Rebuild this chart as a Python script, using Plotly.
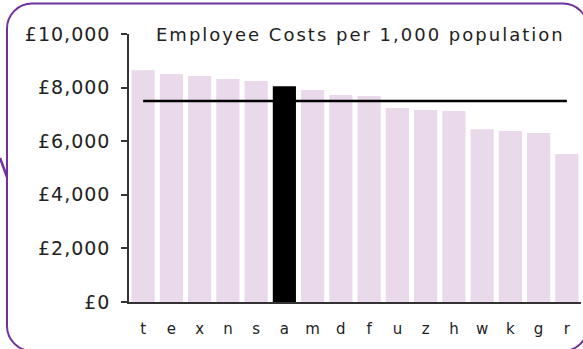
import plotly.graph_objects as go

# Employee costs per 1,000 population by authority, sorted high to low
categories = ["t", "e", "x", "n", "s", "a", "m", "d", "f", "u", "z", "h", "w", "k", "g", "r"]
costs = [8650, 8510, 8430, 8320, 8250, 8050, 7910, 7720, 7690, 7240, 7160, 7130, 6450, 6380, 6310, 5520]
average = 7500
highlight = "a"

y_ticks = [0, 2000, 4000, 6000, 8000, 10000]
y_tick_labels = [f"£{v:,}" for v in y_ticks]

title_text = "Employee Costs per 1,000 population"

W, H = 583, 349
FONT = "DejaVu Sans"
PURPLE = "#7030A0"
BAR = "#EAD8EB"
INK = "#222222"


def px(x):
    return x / W


def py(y):
    return 1 - y / H


bar_colors = ["#000000" if c == highlight else BAR for c in categories]

fig = go.Figure()
fig.add_trace(go.Bar(
    x=categories, y=costs, marker=dict(color=bar_colors, line=dict(width=0)),
    hoverinfo="x+y",
))
fig.add_trace(go.Scatter(
    x=categories, y=[average] * len(categories), mode="lines",
    line=dict(color="#000000", width=2.5), hoverinfo="skip",
))

# rounded frame around the chart (partly running off the right and bottom)
L, T, R, B, r = 7, 3.5, 588, 351, 25
k = 0.45
frame = (
    f"M {px(L)},{py(T + r)} "
    f"C {px(L)},{py(T + r * k)} {px(L + r * k)},{py(T)} {px(L + r)},{py(T)} "
    f"L {px(R - r)},{py(T)} "
    f"C {px(R - r * k)},{py(T)} {px(R)},{py(T + r * k)} {px(R)},{py(T + r)} "
    f"L {px(R)},{py(B - r)} "
    f"C {px(R)},{py(B - r * k)} {px(R - r * k)},{py(B)} {px(R - r)},{py(B)} "
    f"L {px(L + r)},{py(B)} "
    f"C {px(L + r * k)},{py(B)} {px(L)},{py(B - r * k)} {px(L)},{py(B - r)} Z"
)
shapes = [
    dict(type="path", xref="paper", yref="paper", path=frame,
         line=dict(color=PURPLE, width=2), layer="below"),
    dict(type="line", xref="paper", yref="paper",
         x0=px(0), y0=py(158), x1=px(7), y1=py(177),
         line=dict(color=PURPLE, width=2.5)),
]

fig.update_layout(
    width=W, height=H,
    margin=dict(l=0, r=0, t=0, b=0, autoexpand=False),
    paper_bgcolor="white", plot_bgcolor="white",
    showlegend=False,
    bargap=0.18,
    font=dict(family=FONT, color=INK),
    shapes=shapes,
    xaxis=dict(
        domain=[px(129), px(581)], automargin=False,
        showline=True, linecolor="#333333", linewidth=1.5,
        ticks="", tickfont=dict(size=15, family=FONT, color=INK),
        ticklabelstandoff=12, showgrid=False, zeroline=False,
    ),
    yaxis=dict(
        domain=[py(302), py(34)], automargin=False,
        range=[0, 10000], tickvals=y_ticks, ticktext=y_tick_labels,
        showline=True, linecolor="#333333", linewidth=1.5,
        ticks="outside", ticklen=6, tickcolor="#333333", tickwidth=1.5,
        tickfont=dict(size=19, family=FONT, color=INK),
        ticklabelstandoff=7, showgrid=False, zeroline=False,
    ),
    annotations=[dict(
        text=title_text, xref="paper", yref="paper",
        x=px(360), y=py(34), xanchor="center", yanchor="middle",
        showarrow=False, font=dict(size=18, family=FONT, color=INK),
    )],
)

# widen the tracking of the axis and title text
tracking_js = """
var gd = document.getElementById('{plot_id}');
function track() {
  gd.querySelectorAll('.ytick text').forEach(function (t) { t.style.letterSpacing = '1px'; });
  gd.querySelectorAll('.annotation-text').forEach(function (t) { t.style.letterSpacing = '2px'; });
}
track();
gd.on('plotly_afterplot', track);
"""

fig.write_html("out.html", post_script=tracking_js)
